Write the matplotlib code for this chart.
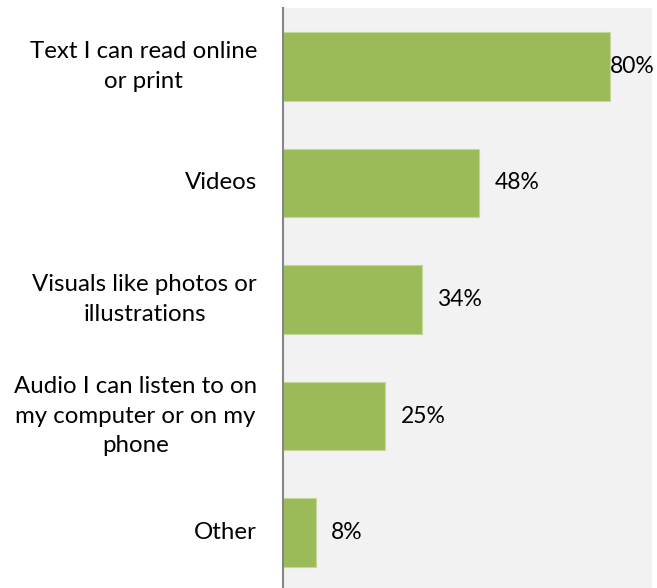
import matplotlib
matplotlib.use("Agg")
import matplotlib.pyplot as plt

categories = ["Text I can read online\nor print", "Videos", "Visuals like photos or\nillustrations",
              "Audio I can listen to on\nmy computer or on my\nphone", "Other"]
values = [80, 48, 34, 25, 8]
value_labels = ["80%", "48%", "34%", "25%", "8%"]

plt.rcParams['font.family'] = ['Lato', 'DejaVu Sans']

fig = plt.figure(figsize=(6.57, 5.88), dpi=100)
ax = fig.add_axes([283/657, -3/588, (652-283)/657, (588-8+3)/588])
ax.set_facecolor('#f2f2f2')

XMAX = 90.2
ypos = list(range(len(categories)))
ax.barh(ypos, values, height=0.59, color='#9bbb59', edgecolor='#c4d79b', linewidth=0.8)
ax.set_xlim(0, XMAX)
ax.set_ylim(len(categories) - 0.5, -0.5)

for y, v, lab in zip(ypos, values, value_labels):
    x = v + 3.7
    if x + 11 > XMAX:
        x = v
    ax.text(x, y, lab, va='center', ha='left', fontsize=16.5, color='#000000')

for y, cat in zip(ypos, categories):
    ax.text(-6.3, y, cat, va='center', ha='right',
            multialignment='center', fontsize=17.3, color='#000000', clip_on=False,
            linespacing=1.5)

ax.set_xticks([])
ax.set_yticks([])
for s in ['top', 'right', 'bottom']:
    ax.spines[s].set_visible(False)
ax.spines['left'].set_color('#868686')
ax.spines['left'].set_linewidth(1.5)

fig.savefig('out.png', dpi=100)
